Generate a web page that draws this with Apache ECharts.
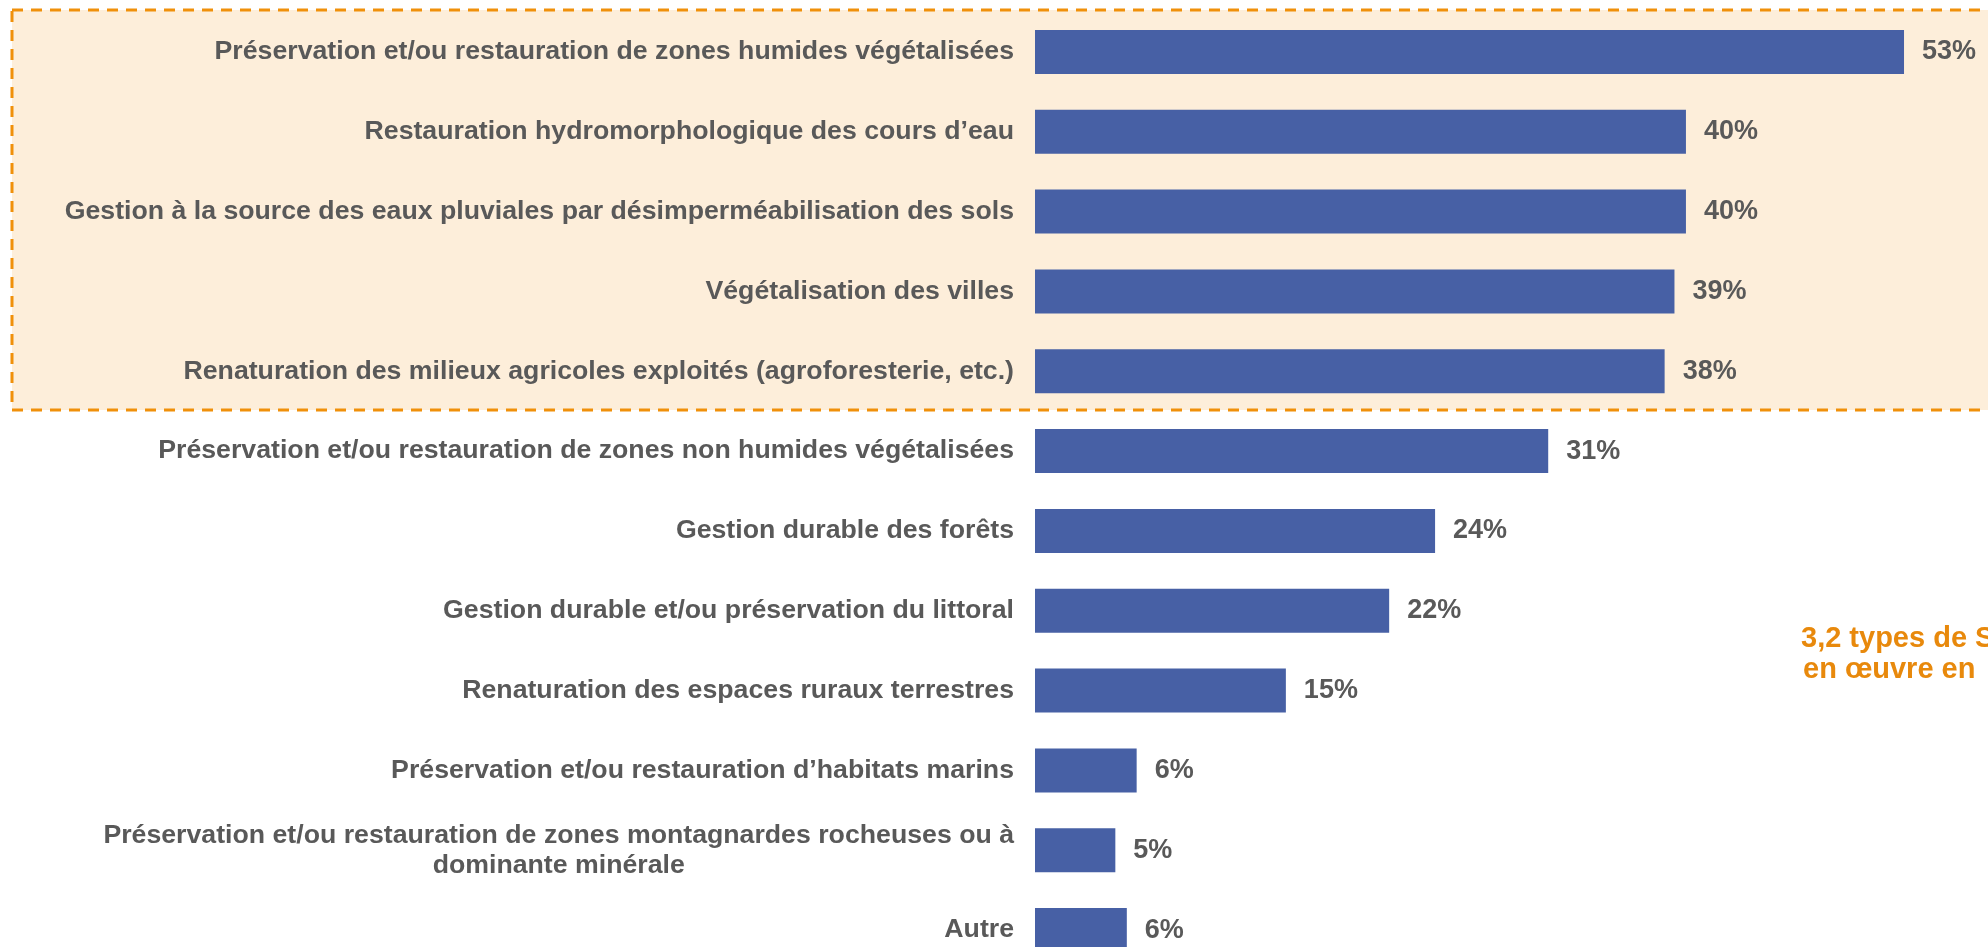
<!DOCTYPE html>
<html>
<head>
<meta charset="utf-8">
<script src="https://cdn.jsdelivr.net/npm/echarts@6/dist/echarts.min.js"></script>
<style>
    html, body { margin: 0; padding: 0; background: #ffffff; }
    #chart { width: 1988px; height: 947px; }
</style>
</head>
<body>
<div id="chart"></div>
<script>
'use strict'

// categories, top to bottom
var categories = [
    "Préservation et/ou restauration de zones humides végétalisées",
    "Restauration hydromorphologique des cours d’eau",
    "Gestion à la source des eaux pluviales par désimperméabilisation des sols",
    "Végétalisation des villes",
    "Renaturation des milieux agricoles exploités (agroforesterie, etc.)",
    "Préservation et/ou restauration de zones non humides végétalisées",
    "Gestion durable des forêts",
    "Gestion durable et/ou préservation du littoral",
    "Renaturation des espaces ruraux terrestres",
    "Préservation et/ou restauration d’habitats marins",
    "Préservation et/ou restauration de zones montagnardes rocheuses ou à\ndominante minérale",
    "Autre"
];

// bar lengths (%)
var values = [53, 39.7, 39.7, 39.0, 38.4, 31.3, 24.4, 21.6, 15.3, 6.2, 4.9, 5.6];

// labels printed next to the bars
var valueLabels = ["53%", "40%", "40%", "39%", "38%", "31%", "24%", "22%", "15%", "6%", "5%", "6%"];

// side note, cut by the right edge in the original
var sideText = ["3,2 types de SfN", "en œuvre en"];

var grey = "#595959";
var font = "'Liberation Sans', Arial, sans-serif";

var myChart = echarts.init(document.getElementById('chart'));

var option = {
    backgroundColor: "#ffffff",
    animation: false,
    grid: {
        left: 1035,
        top: 12,
        width: 951,
        height: 958,
        outerBoundsMode: "none"
    },
    xAxis: {
        type: "value",
        min: 0,
        max: 58,
        show: false
    },
    yAxis: {
        type: "category",
        inverse: true,
        data: categories,
        axisLine: { show: false },
        axisTick: { show: false },
        splitLine: { show: false },
        axisLabel: {
            margin: 21,
            fontFamily: font,
            fontSize: 26.7,
            fontWeight: "bold",
            color: grey,
            lineHeight: 30,
            formatter: function (val) {
                // wrapped labels are centred line by line
                return val.split("\n").map(function (l) { return "{c|" + l + "}"; }).join("\n");
            },
            rich: {
                c: {
                    align: "center",
                    fontFamily: font,
                    fontSize: 26.7,
                    fontWeight: "bold",
                    color: grey,
                    lineHeight: 30
                }
            }
        }
    },
    graphic: [
        {
            type: "rect",
            z: -10,
            shape: { x: 12, y: 10, width: 2000, height: 400 },
            style: {
                fill: "#FDEEDA",
                stroke: "#F0900A",
                lineWidth: 3,
                lineDash: [11, 8]
            }
        },
        {
            type: "text",
            x: 1801,
            y: 639,
            style: {
                text: sideText[0],
                fontFamily: font,
                fontSize: 29,
                fontWeight: "bold",
                fill: "#E8890C",
                textVerticalAlign: "middle"
            }
        },
        {
            type: "text",
            x: 1803,
            y: 670,
            style: {
                text: sideText[1],
                fontFamily: font,
                fontSize: 29,
                fontWeight: "bold",
                fill: "#E8890C",
                textVerticalAlign: "middle"
            }
        }
    ],
    series: [{
        type: "bar",
        data: values,
        barWidth: 44,
        itemStyle: { color: "#4760A5" },
        label: {
            show: true,
            position: "right",
            distance: 18,
            fontFamily: font,
            fontSize: 27,
            fontWeight: "bold",
            color: grey,
            formatter: function (p) { return valueLabels[p.dataIndex]; }
        }
    }]
};

myChart.setOption(option);
</script>
</body>
</html>
